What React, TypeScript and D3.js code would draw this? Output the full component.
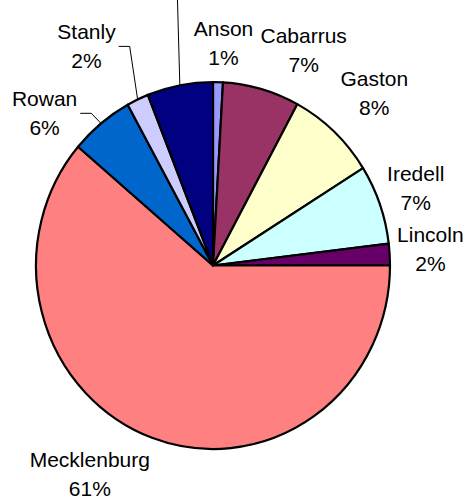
import React from "react";
import * as d3 from "d3";

// ---- data ----
const counties = ["Anson", "Cabarrus", "Gaston", "Iredell", "Lincoln", "Mecklenburg", "Rowan", "Stanly", "Union"];
const shares = [0.9, 7.0, 8.2, 7.0, 1.9, 61.2, 5.8, 2.0, 6.0];
const sliceColors = ["#9999FF", "#993366", "#FFFFCC", "#CCFFFF", "#660066", "#FF8080", "#0066CC", "#CCCCFF", "#000080"];

// ---- label layout (polar: degrees clockwise from 12 o'clock, px from centre) ----
const labelAngles = [2.7, 22.8, 43.1, 69.1, 85.7, 210.6, 312.1, 330, 352.9];
const labelRadii = [223, 234, 236, 217, 218, 242, 227, 253, 288];
const labelShown = [true, true, true, true, true, true, true, true, false];
const leaderKind = ["none", "none", "none", "none", "none", "none", "elbow", "elbow", "up"];

const W = 464;
const H = 499;
const CX = 213;
const CY = 265.5;
const RX = 177;
const RY = 183.5;
const FONT = "Arial, 'Liberation Sans', sans-serif";
const FS = 21;
const LINE = 29;

function textWidth(t: string): number {
  try {
    const c = document.createElement("canvas").getContext("2d");
    if (c) {
      c.font = `${FS}px 'Liberation Sans', Arial, sans-serif`;
      return c.measureText(t).width;
    }
  } catch (e) {}
  return t.length * FS * 0.55;
}

export default function App() {
  const total = d3.sum(shares);
  const rows = counties.map((name, i) => ({ name, value: shares[i], color: sliceColors[i], i }));
  const pie = d3
    .pie<any>()
    .value((d: any) => d.value)
    .sort(null)
    .startAngle(0)
    .endAngle(2 * Math.PI);
  const arcs = pie(rows);
  const arc = d3.arc<any>().innerRadius(0).outerRadius(RX);
  const sy = RY / RX;

  const polar = (deg: number, r: number) => {
    const a = (deg * Math.PI) / 180;
    return [CX + r * Math.sin(a), CY - r * Math.cos(a)];
  };
  const edge = (a: number) => [CX + RX * Math.sin(a), CY - RY * Math.cos(a)];

  return (
    <svg
      width={W}
      height={H}
      style={{ position: "absolute", left: 0, top: 0, background: "#fff" }}
    >
      <g transform={`translate(${CX},${CY}) scale(1,${sy})`}>
        {arcs.map((a: any) => (
          <path
            key={a.data.name}
            d={arc(a) as string}
            fill={a.data.color}
            stroke="#000"
            strokeWidth={2.2}
            strokeLinejoin="round"
            vectorEffect="non-scaling-stroke"
          />
        ))}
      </g>
      {arcs.map((a: any, i: number) => {
        const mid = (a.startAngle + a.endAngle) / 2;
        const [lx, ly] = polar(labelAngles[i], labelRadii[i]);
        const [ex, ey] = edge(mid);
        let leader: React.ReactNode = null;
        if (leaderKind[i] === "elbow") {
          const hw = textWidth(a.data.name) / 2;
          const x0 = lx + hw + 3;
          const x1 = x0 + 11;
          leader = (
            <polyline
              points={`${x0},${ly} ${x1},${ly} ${ex},${ey}`}
              fill="none"
              stroke="#000"
              strokeWidth={1}
            />
          );
        } else if (leaderKind[i] === "up") {
          leader = (
            <polyline
              points={`${ex},${ey} ${lx},${ly + 18}`}
              fill="none"
              stroke="#000"
              strokeWidth={1}
            />
          );
        }
        const pct = Math.round((a.data.value / total) * 100) + "%";
        return (
          <g key={"lab" + i}>
            {leader}
            {labelShown[i] && (
              <text
                x={lx}
                textAnchor="middle"
                fontFamily={FONT}
                fontSize={FS}
                fill="#000"
              >
                <tspan x={lx} y={ly - 7}>
                  {a.data.name}
                </tspan>
                <tspan x={lx} y={ly - 7 + LINE}>
                  {pct}
                </tspan>
              </text>
            )}
          </g>
        );
      })}
    </svg>
  );
}
